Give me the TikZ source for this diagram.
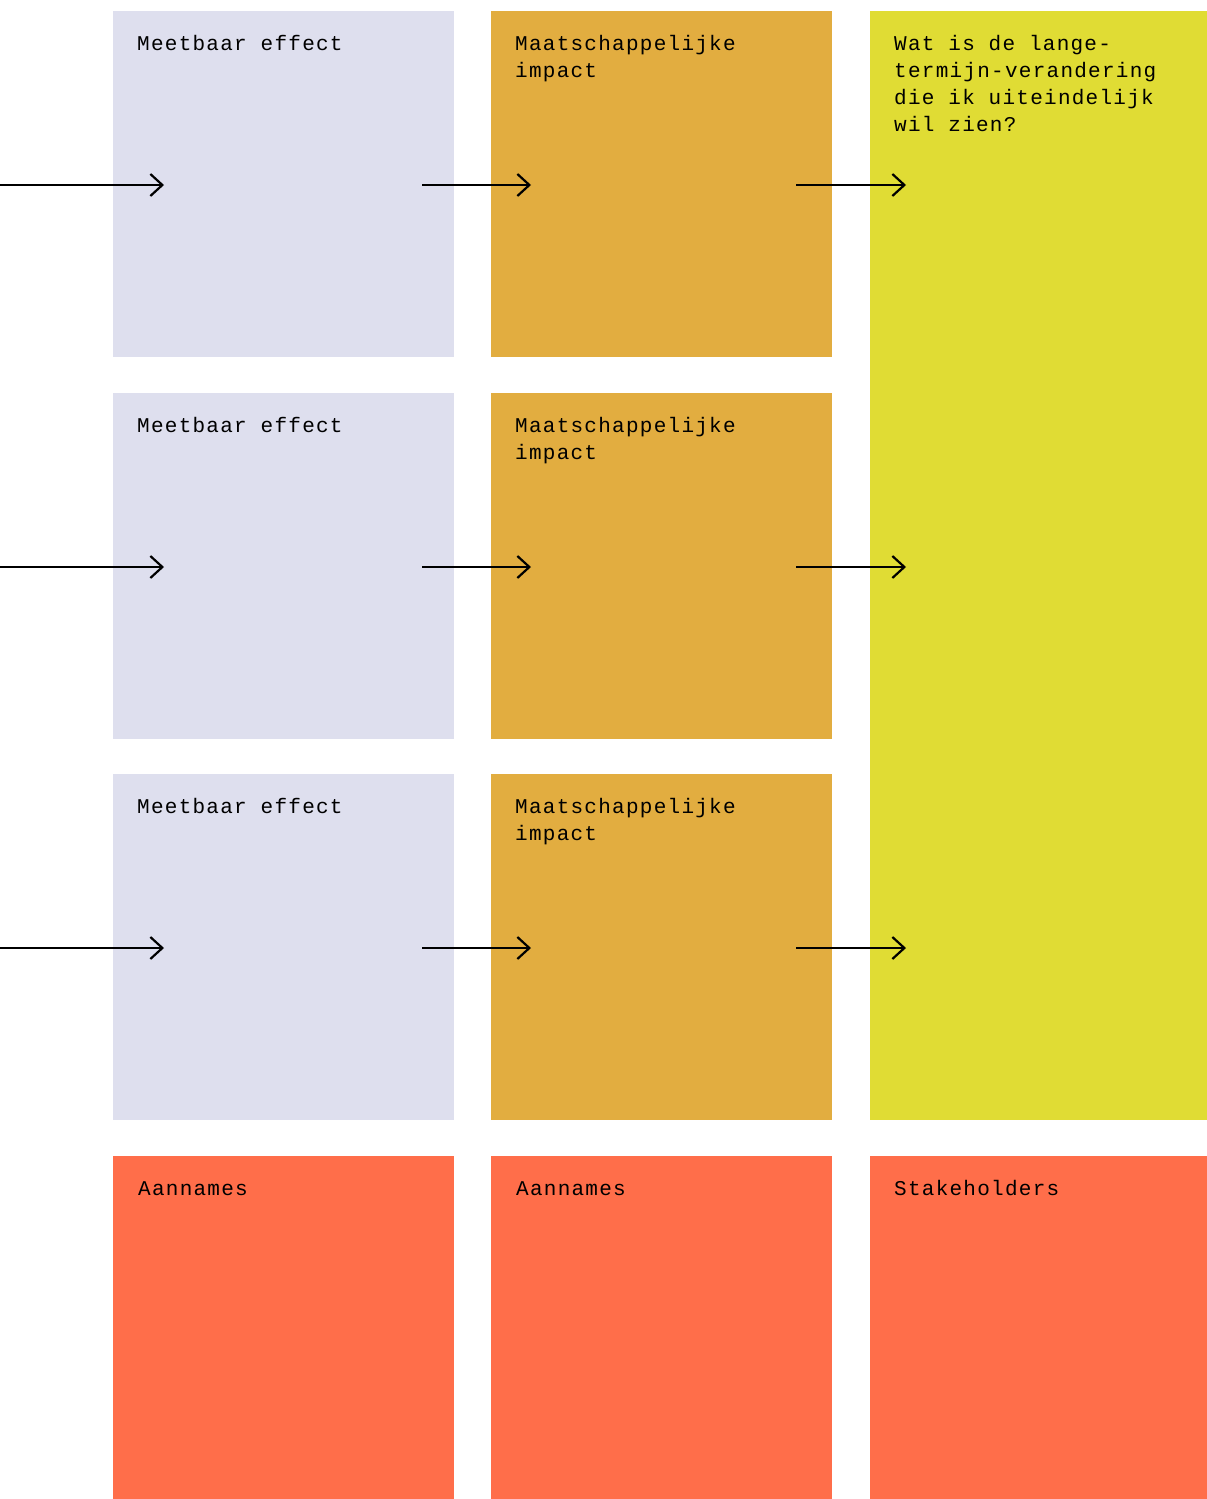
\documentclass[tikz,border=0pt]{standalone}
\usepackage{fontspec}
\setmonofont{Liberation Mono}[LetterSpace=6]
\usetikzlibrary{arrows.meta,calc}
\definecolor{lav}{RGB}{222,223,238}
\definecolor{ochre}{RGB}{226,173,64}
\definecolor{lime}{RGB}{224,220,52}
\definecolor{coral}{RGB}{255,110,74}
\begin{document}
\begin{tikzpicture}[x=1pt,y=-1pt,
  box/.style={fill=#1, draw=none, inner sep=0pt, outer sep=0pt, anchor=north west, minimum width=341pt, minimum height=346pt},
  lbl/.style={font=\ttfamily\fontsize{21}{27}\selectfont, anchor=base west, inner sep=0pt, align=left},
  conn/.style={-{Straight Barb[length=12pt,width=22pt,line width=2.2pt]}, line width=2.2pt}]
\fill[white] (0,0) rectangle (1207,1499);
\useasboundingbox (0,0) rectangle (1207,1499);
% column 1
\node[box=lav] (m1) at (113,11) {};
\node[box=lav] (m2) at (113,393) {};
\node[box=lav] (m3) at (113,774) {};
\node[box=coral, minimum height=343pt] (a1) at (113,1156) {};
% column 2
\node[box=ochre] (i1) at (491,11) {};
\node[box=ochre] (i2) at (491,393) {};
\node[box=ochre] (i3) at (491,774) {};
\node[box=coral, minimum height=343pt] (a2) at (491,1156) {};
% column 3
\node[box=lime, minimum width=337pt, minimum height=1109pt] (g) at (870,11) {};
\node[box=coral, minimum width=337pt, minimum height=343pt] (s) at (870,1156) {};
% labels (base anchor of a multi-line node is its last line)
\foreach \b in {m1,m2,m3}
  \node[lbl] (t\b) at ($(\b.north west)+(24,39)$) {Meetbaar effect};
\foreach \b in {i1,i2,i3}
  \node[lbl] (t\b) at ($(\b.north west)+(24,66)$) {Maatschappelijke\\impact};
\node[lbl] (tg) at ($(g.north west)+(24,120)$) {Wat is de lange-\\termijn-verandering\\die ik uiteindelijk\\wil zien?};
\node[lbl] (ta1) at ($(a1.north west)+(25,39)$) {Aannames};
\node[lbl] (ta2) at ($(a2.north west)+(25,39)$) {Aannames};
\node[lbl] (ts) at ($(s.north west)+(24,39)$) {Stakeholders};
% connectors
\foreach \r in {1,2,3} {
  \coordinate (in\r) at ($(0,0 |- m\r.west)+(0,1)$);
  \draw[conn] (in\r) -- ($(m\r.west)+(51,1)$);
  \draw[conn] ($(m\r.east)+(-32,1)$) -- ($(i\r.west)+(40,1)$);
  \draw[conn] ($(i\r.east)+(-36,1)$) -- ($(g.west |- i\r.east)+(36,1)$);
}
\end{tikzpicture}
\end{document}
